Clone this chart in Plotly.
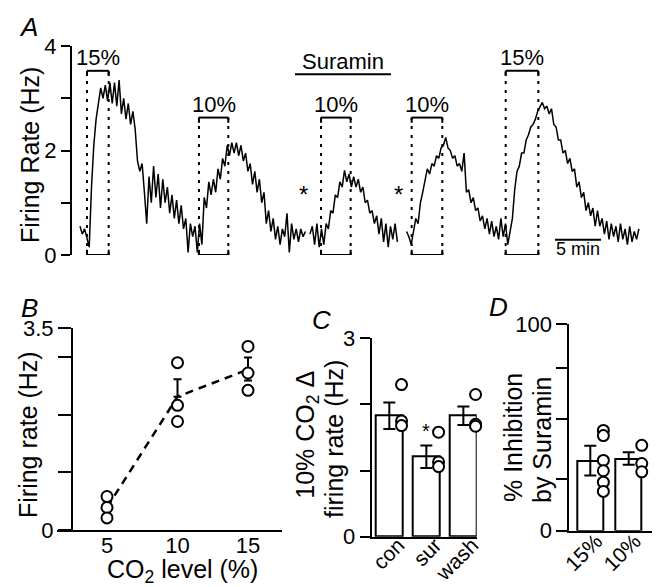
import plotly.graph_objects as go

# ---------------- data ----------------
# Panel A: firing-rate trace (Hz), sampled every 0.25 min, three recording segments
SAMPLE_MIN = 0.25
seg1_start, seg2_start, seg3_start = 0.0, 25.0, 35.5
seg1_rate = [0.55, 0.4, 0.5, 0.3, 0.15, 1.3, 2.1, 2.6, 2.9, 3.2,
             3.0, 3.25, 2.95, 3.3, 2.9, 3.3, 2.85, 3.35, 2.7, 3.0,
             2.6, 2.9, 2.5, 2.75, 2.4, 1.8, 1.6, 1.75, 1.2, 0.6,
             1.5, 1.0, 1.7, 1.1, 1.55, 0.9, 1.45, 1.0, 1.3, 0.8,
             1.15, 0.7, 1.05, 0.6, 0.95, 0.5, 0.7, 0.05, 0.6, 0.35,
             0.55, 0.05, 0.6, 0.2, 1.1, 0.9, 1.4, 1.15, 1.45, 1.2,
             1.65, 1.45, 1.85, 1.7, 2.1, 1.9, 2.15, 1.95, 2.15, 1.9,
             2.1, 1.8, 1.95, 1.6, 1.75, 1.35, 1.6, 1.2, 1.45, 1.0,
             1.2, 0.6, 0.85, 0.45, 0.7, 0.3, 0.55, 0.2, 0.5, 0.35,
             0.8, 0.05, 0.6, 0.3, 0.5, 0.25, 0.5, 0.35, 0.45]
seg2_rate = [0.4, 0.55, 0.2, 0.6, 0.15, 0.5, 0.2, 0.6, 0.5, 0.85,
             0.8, 1.15, 1.1, 1.4, 1.3, 1.62, 1.4, 1.55, 1.3, 1.5,
             1.3, 1.45, 1.2, 1.3, 1.0, 1.05, 0.8, 0.85, 0.6, 0.75,
             0.4, 0.7, 0.25, 0.6, 0.15, 0.55, 0.3, 0.6, 0.25]
seg3_rate = [0.45, 0.35, 0.2, 0.45, 0.7, 0.6, 1.0, 1.2, 1.4, 1.65,
             1.55, 1.75, 1.7, 1.9, 1.85, 2.05, 2.1, 2.25, 2.05, 2.0,
             1.85, 1.9, 1.7, 1.75, 1.6, 1.95, 1.2, 1.25, 1.0, 1.1,
             0.85, 0.9, 0.65, 0.75, 0.5, 0.7, 0.4, 0.65, 0.35, 0.55,
             0.3, 0.7, 0.35, 0.6, 0.2, 0.45, 0.7, 1.25, 1.6, 1.7,
             1.95, 1.95, 2.2, 2.3, 2.45, 2.5, 2.6, 2.75, 2.85, 2.92,
             2.8, 2.85, 2.7, 2.8, 2.5, 2.45, 2.2, 2.2, 1.95, 2.0,
             1.75, 1.85, 1.6, 1.65, 1.3, 1.4, 1.1, 1.2, 0.85, 1.0,
             0.75, 0.9, 0.55, 0.85, 0.55, 0.7, 0.4, 0.65, 0.3, 0.6,
             0.35, 0.55, 0.25, 0.6, 0.3, 0.5, 0.2, 0.55, 0.25, 0.45,
             0.3, 0.5]

# CO2 stimulus windows (min) and their bracket heights (Hz)
stim_start = [0.76, 12.93, 26.2, 36.05, 46.27]
stim_end = [3.12, 16.12, 29.42, 39.38, 49.82]
stim_top = [3.525, 2.63, 2.63, 2.63, 3.525]
stim_label = ["15%", "10%", "10%", "10%", "15%"]
suramin_window = [23.37, 33.8]
suramin_level = 3.46
asterisk_times = [24.24, 34.67]
asterisk_level = 1.25
scalebar_min = [51.63, 56.63]
scalebar_level = 0.29

# Panel B: firing rate vs CO2
b_levels = [5, 10, 15]
b_points_x = [5, 5, 5, 10, 10, 10, 15, 15, 15]
b_points_y = [0.58, 0.39, 0.21, 2.9, 2.16, 1.88, 3.18, 2.72, 2.42]
b_mean = [0.39, 2.31, 2.78]
b_err_up = [0.0, 0.3, 0.21]
b_err_down = [0.0, 0.0, 0.19]

# Panel C: 10% CO2 delta firing rate
c_cats = ["con", "sur", "wash"]
c_mean = [1.83, 1.21, 1.83]
c_sem = [0.2, 0.17, 0.14]
c_points = [[2.3, 1.75, 1.68], [1.58, 1.13, 1.06], [2.15, 1.70, 1.67]]

# Panel D: % inhibition by suramin
d_cats = ["15%", "10%"]
d_mean = [33.9, 34.9]
d_sem = [7.2, 3.0]
d_points = [[48.5, 46.0, 34.0, 29.0, 23.5, 19.0], [41.3, 32.5, 28.5]]

# ---------------- figure ----------------
W, H = 657, 587
FONT = "Liberation Sans"
K = "black"


def fx(p):
    return p / W


def fy(p):
    return 1 - p / H


fig = go.Figure()

# Panel A trace
for rate, t0 in zip([seg1_rate, seg2_rate, seg3_rate], [seg1_start, seg2_start, seg3_start]):
    t = [t0 + SAMPLE_MIN * i for i in range(len(rate))]
    fig.add_trace(go.Scatter(x=t, y=rate, mode="lines", line=dict(color=K, width=1.5),
                             xaxis="x", yaxis="y", showlegend=False, hoverinfo="skip"))

shapes = []
annotations = []


def line(x0, y0, x1, y1, xref="x", yref="y", dash="solid", width=2):
    shapes.append(dict(type="line", x0=x0, y0=y0, x1=x1, y1=y1, xref=xref, yref=yref,
                       line=dict(color=K, width=width, dash=dash)))


tick = 0.1
label_font = dict(size=22, color=K, family=FONT)
for s, e, top, lab in zip(stim_start, stim_end, stim_top, stim_label):
    line(s, 0, s, top, dash="3px,6px")
    line(e, 0, e, top, dash="3px,6px")
    line(s, top, e, top)
    line(s, top - tick, s, top)
    line(e, top - tick, e, top)
    line(s, 0, e, 0)
    line(s, 0, s, tick)
    line(e, 0, e, tick)
    annotations.append(dict(x=(s + e) / 2, y=top, xref="x", yref="y", text=lab, showarrow=False,
                            yanchor="bottom", yshift=-1, font=label_font))

line(suramin_window[0], suramin_level, suramin_window[1], suramin_level)
annotations.append(dict(x=sum(suramin_window) / 2, y=suramin_level, xref="x", yref="y", text="Suramin",
                        showarrow=False, yanchor="bottom", yshift=-2, font=label_font))
for at in asterisk_times:
    annotations.append(dict(x=at, y=asterisk_level, xref="x", yref="y", text="*", showarrow=False,
                            yshift=-5, font=dict(size=24, color=K, family=FONT)))
line(scalebar_min[0], scalebar_level, scalebar_min[1], scalebar_level)
annotations.append(dict(x=sum(scalebar_min) / 2, y=scalebar_level, xref="x", yref="y", text="5 min",
                        showarrow=False, yanchor="top", yshift=3,
                        font=dict(size=18, color=K, family=FONT)))

# Panel B
fig.add_trace(go.Scatter(x=b_levels, y=b_mean, mode="lines",
                         line=dict(color=K, width=2.5, dash="8px,6px"),
                         error_y=dict(type="data", array=b_err_up, arrayminus=b_err_down, symmetric=False,
                                      color=K, thickness=2, width=4),
                         xaxis="x2", yaxis="y2", showlegend=False, hoverinfo="skip"))
circle = dict(symbol="circle", size=11, color="white", line=dict(color=K, width=2))
fig.add_trace(go.Scatter(x=b_points_x, y=b_points_y, mode="markers", marker=circle,
                         xaxis="x2", yaxis="y2", showlegend=False, hoverinfo="skip", cliponaxis=False))

# Panel C
bar_style = dict(color="white", line=dict(color=K, width=2))
c_x = list(range(len(c_cats)))
fig.add_trace(go.Bar(x=c_x, y=c_mean, width=0.72, marker=bar_style,
                     error_y=dict(type="data", array=c_sem, color=K, thickness=2, width=6),
                     xaxis="x3", yaxis="y3", showlegend=False, hoverinfo="skip"))
POINT_OFFSET = 0.33
cx, cy = [], []
for i, pts in enumerate(c_points):
    cx += [i + POINT_OFFSET] * len(pts)
    cy += pts
fig.add_trace(go.Scatter(x=cx, y=cy, mode="markers", marker=circle, xaxis="x3", yaxis="y3",
                         showlegend=False, hoverinfo="skip", cliponaxis=False))
annotations.append(dict(x=0.98, y=1.69, xref="x3", yref="y3", text="*", showarrow=False, yshift=-6,
                        font=dict(size=20, color=K, family=FONT)))

# Panel D
d_x = list(range(len(d_cats)))
fig.add_trace(go.Bar(x=d_x, y=d_mean, width=0.68, marker=bar_style,
                     error_y=dict(type="data", array=d_sem, color=K, thickness=2, width=6),
                     xaxis="x4", yaxis="y4", showlegend=False, hoverinfo="skip"))
dx, dy = [], []
for i, pts in enumerate(d_points):
    dx += [i + 0.34] * len(pts)
    dy += pts
fig.add_trace(go.Scatter(x=dx, y=dy, mode="markers", marker=circle, xaxis="x4", yaxis="y4",
                         showlegend=False, hoverinfo="skip", cliponaxis=False))

# Titles / panel letters
title_font = dict(size=25, color=K, family=FONT)


def ptext(x, y, text, angle=0, font=title_font):
    annotations.append(dict(x=fx(x), y=fy(y), xref="paper", yref="paper", text=text, showarrow=False,
                            textangle=angle, xanchor="center", yanchor="middle", font=font))


ptext(30, 155, "Firing Rate (Hz)", -90)
ptext(28, 435, "Firing rate (Hz)", -90)
ptext(182, 571, "CO<sub>2</sub> level (%)")
ptext(306.7, 435, "10% CO<sub>2</sub> Δ", -90)
ptext(334, 439, "firing rate (Hz)", -90)
ptext(513, 438, "% Inhibition", -90)
ptext(542, 440, "by Suramin", -90)
letter_font = dict(size=26, color=K, family=FONT)
ptext(28, 27, "<i>A</i>", font=letter_font)
ptext(29, 308, "<i>B</i>", font=letter_font)
ptext(321, 320, "<i>C</i>", font=letter_font)
ptext(498, 307, "<i>D</i>", font=letter_font)

tickfont = dict(size=22, color=K, family=FONT)


def yax(domain, rng, major, labels, minor, ticklen, **kw):
    return dict(domain=domain, range=rng, showline=True, linecolor=K, linewidth=2,
                ticks="outside", tickcolor=K, tickwidth=2, ticklen=ticklen,
                tickvals=major, ticktext=labels, tickfont=tickfont, automargin=False,
                minor=dict(tickvals=minor, ticks="outside", ticklen=ticklen, tickwidth=2,
                           tickcolor=K, showgrid=False),
                showgrid=False, zeroline=False, **kw)


common_x = dict(showline=True, linecolor=K, linewidth=2, ticks="", showgrid=False, zeroline=False,
                automargin=False)
rot_font = dict(size=21, color=K, family=FONT)

fig.update_layout(
    width=W, height=H, margin=dict(l=0, r=0, t=0, b=0, pad=0, autoexpand=False),
    paper_bgcolor="white", plot_bgcolor="white", showlegend=False,
    font=dict(family=FONT, color=K),
    xaxis=dict(domain=[fx(72), fx(645)], range=[(72 - 80) / 9.2, (645 - 80) / 9.2], visible=False,
               anchor="y", automargin=False),
    yaxis=yax([fy(255), fy(46)], [0, 4], [0, 2, 4], ["0", "2", "4"], [1, 3], 9, anchor="x"),
    xaxis2=dict(domain=[fx(57), fx(282)], range=[5 - 50 / 14.1, 5 + 175 / 14.1], anchor="y2",
                tickvals=b_levels, tickfont=tickfont, ticklabelstandoff=-5, **common_x),
    yaxis2=yax([fy(530), fy(328)], [0, 3.5], [0, 3.5], ["0", "3.5"], [1, 2, 3], 13,
               anchor="free", position=fx(72)),
    xaxis3=dict(domain=[fx(371.7), fx(476.7)], range=[-0.476, 2.36], anchor="y3",
                tickvals=c_x, ticktext=c_cats, tickangle=-45, tickfont=rot_font,
                ticklabelstandoff=-14, ticklabelshift=9, **common_x),
    yaxis3=yax([fy(536.7), fy(338.3)], [0, 3], [0, 3], ["0", "3"], [1, 2], 10, anchor="x3"),
    xaxis4=dict(domain=[fx(569.3), fx(652)], range=[-0.547, 1.607], anchor="y4",
                tickvals=d_x, ticktext=d_cats, tickangle=-45, tickfont=rot_font,
                ticklabelstandoff=-12, ticklabelshift=6, **common_x),
    yaxis4=yax([fy(530.7), fy(324)], [0, 100], [0, 100], ["0", "100"], [24.9, 54.2, 78.6], 11,
               anchor="x4"),
    shapes=shapes, annotations=annotations, bargap=0,
)

fig.write_html("out.html", config={"displayModeBar": False},
               post_script="document.body.style.margin='0';")
